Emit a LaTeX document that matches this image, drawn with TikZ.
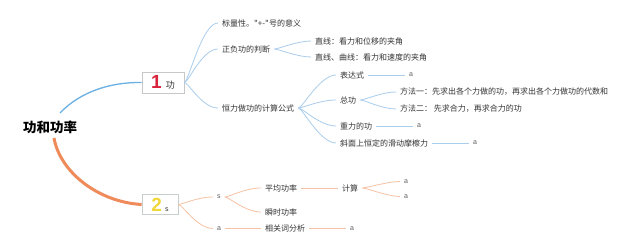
\documentclass[tikz,border=0pt]{standalone}
\usepackage{fontspec}
\newfontfamily\cjk{Noto Sans CJK SC}
\newfontfamily\digitfont{Liberation Sans}
\definecolor{textc}{HTML}{333333}
\definecolor{mainblue}{HTML}{6AB0E3}
\definecolor{lightblue}{HTML}{AACDEC}
\definecolor{mainorange}{HTML}{EF8A5B}
\definecolor{lightorange}{HTML}{F6C2A4}
\definecolor{numred}{HTML}{D9233C}
\definecolor{numyellow}{HTML}{F2D73A}
\tikzset{
  txt/.style={font=\cjk\fontsize{8}{9}\selectfont, text=textc, inner xsep=4pt, inner ysep=1pt, anchor=west},
  lab/.style={font=\digitfont\fontsize{7}{8}\selectfont, text=textc!80, inner xsep=4pt, inner ysep=1pt, anchor=west},
  bl/.style={draw=lightblue, line width=0.8pt},
  orl/.style={draw=lightorange, line width=0.8pt},
  topic/.style={draw=#1, fill=white, line width=0.7pt, minimum height=21pt, inner sep=0pt},
}
\begin{document}
\begin{tikzpicture}[x=1pt,y=-1pt]
\fill[white] (0,0) rectangle (640,251);
\useasboundingbox (0,0) rectangle (640,251);

% root
\node[font=\cjk\bfseries\fontsize{13.5}{15}\selectfont, text=black, anchor=west, inner sep=1pt] (root) at (22,127) {功和功率};
\coordinate (rs1) at (60,113);
\coordinate (rs2) at (54,138);

% main topics
\node[topic=black!22, minimum width=42pt] (n1) at (163,82.5)
  {{\digitfont\bfseries\fontsize{19}{19}\selectfont\color{numred}1}\hspace{4pt}{\cjk\fontsize{9}{10}\selectfont\color{textc}功}};
\node[topic=teal!25!black!22, minimum width=36pt, minimum height=20pt] (n2) at (160,204.5)
  {{\digitfont\bfseries\fontsize{19}{19}\selectfont\color{numyellow}2}\hspace{3pt}{\digitfont\fontsize{7}{8}\selectfont\color{textc}s}};

\draw[draw=mainblue, line width=1.3pt] (rs1) .. controls (80,92) and (110,82) .. (n1.west);
\draw[draw=mainorange, line width=3pt] (rs2) .. controls (60,172) and (98,202) .. (n2.west);

% branch 1
\node[txt] (a1) at (218,23) {标量性。"+-"号的意义};
\node[txt] (a2) at (218,49) {正负功的判断};
\node[txt] (a3) at (218,108) {恒力做功的计算公式};
\node[txt] (b1) at (311,41) {直线：看力和位移的夹角};
\node[txt] (b2) at (311,57) {直线、曲线：看力和速度的夹角};
\node[txt] (c1) at (336,75) {表达式};
\node[txt] (c2) at (336,100) {总功};
\node[txt] (c3) at (336,126) {重力的功};
\node[txt] (c4) at (336,143) {斜面上恒定的滑动摩檫力};
\node[lab] (c1a) at (405,75) {a};
\node[txt] (d1) at (396,92) {方法一：先求出各个力做的功，再求出各个力做功的代数和};
\node[txt] (d2) at (396,109) {方法二： 先求合力，再求合力的功};
\node[lab] (c3a) at (413,126) {a};
\node[lab] (c4a) at (469,143) {a};

\foreach \c in {a1,a2,a3}
  \draw[bl] (n1.east) .. controls +(4,0) and +(-16,0) .. (\c.west);
\foreach \c in {b1,b2}
  \draw[bl] (a2.east) .. controls +(4,0) and +(-14,0) .. (\c.west);
\foreach \c in {c1,c2,c3,c4}
  \draw[bl] (a3.east) .. controls +(4,0) and +(-16,0) .. (\c.west);
\foreach \c in {d1,d2}
  \draw[bl] (c2.east) .. controls +(4,0) and +(-14,0) .. (\c.west);
\draw[bl] (c1.east) -- (c1a.west);
\draw[bl] (c3.east) -- (c3a.west);
\draw[bl] (c4.east) -- (c4a.west);

% branch 2
\node[lab] (s1) at (213,197) {s};
\node[lab] (s2) at (213,228.5) {a};
\node[txt] (e1) at (261,188) {平均功率};
\node[txt] (e2) at (261,212) {瞬时功率};
\node[txt] (e3) at (261,228.5) {相关词分析};
\node[txt] (f1) at (338,188) {计算};
\node[lab] (g1) at (400,181.5) {a};
\node[lab] (g2) at (400,196.5) {a};
\node[lab] (e3a) at (346,228.5) {a};

\foreach \c in {s1,s2}
  \draw[orl] (n2.east) .. controls +(4,0) and +(-16,0) .. (\c.west);
\foreach \c in {e1,e2}
  \draw[orl] (s1.east) .. controls +(4,0) and +(-16,0) .. (\c.west);
\draw[orl] (s2.east) -- (e3.west);
\draw[orl] (e1.east) -- (f1.west);
\foreach \c in {g1,g2}
  \draw[orl] (f1.east) .. controls +(4,0) and +(-12,0) .. (\c.west);
\draw[orl] (e3.east) -- (e3a.west);
\end{tikzpicture}
\end{document}
